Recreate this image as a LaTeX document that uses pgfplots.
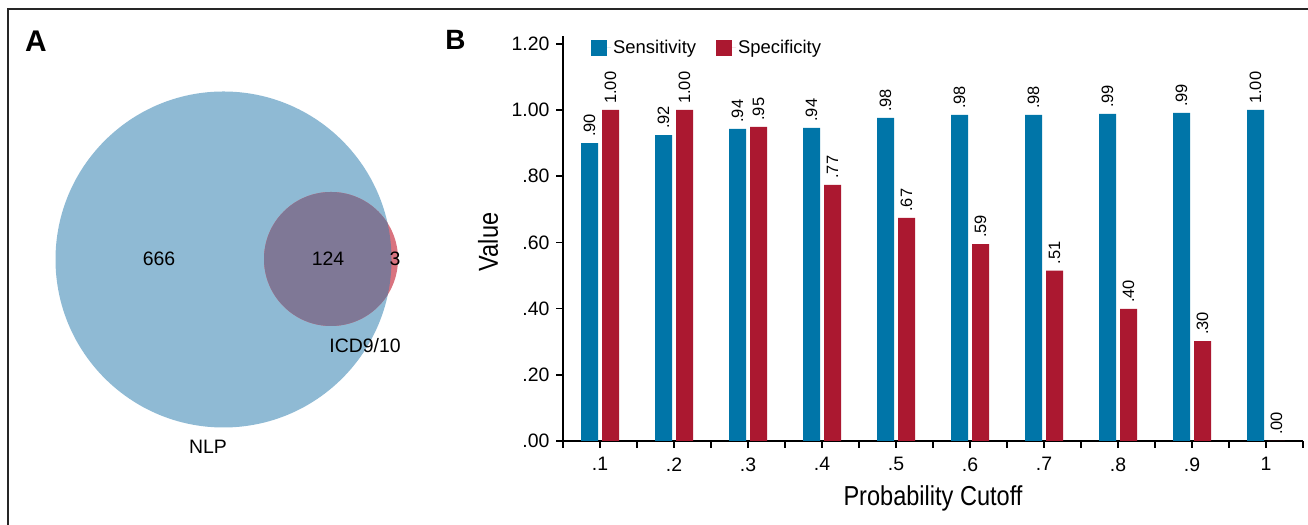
\documentclass[border=0pt]{standalone}
\usepackage{fontspec}
\setmainfont{Liberation Sans}
\newfontfamily\condfont[FakeStretch=0.86]{Liberation Sans}
\usepackage{pgfplots}
\pgfplotsset{compat=1.18}

\definecolor{sensblue}{HTML}{0075A8}
\definecolor{specred}{HTML}{AB1830}
\definecolor{vennblue}{HTML}{8FBAD4}
\definecolor{vennpink}{HTML}{D9737F}
\definecolor{vennmix}{HTML}{7F7896}

\begin{document}
\begin{tikzpicture}[x=1bp,y=1bp]
\useasboundingbox (0,0) rectangle (1308,525);
% outer frame (only top and left show)
\draw[line width=1.3bp, black!85] (8,0) -- (8,516) -- (1308,516);
\node[font=\fontsize{30}{34}\selectfont\bfseries] at (36,484) {A};
\node[font=\fontsize{28}{32}\selectfont\bfseries] at (455.5,485) {B};

% panel A: venn diagram
\begin{axis}[
    at={(0,0)}, anchor=south west, scale only axis,
    width=470bp, height=525bp,
    xmin=0, xmax=470, ymin=0, ymax=525,
    hide axis,
  ]
  \fill[vennblue] (axis cs:223.5,265.5) circle[radius=168];
  \fill[vennpink] (axis cs:331,266) circle[radius=67];
  \begin{scope}
    \clip (axis cs:223.5,265.5) circle[radius=168];
    \fill[vennmix] (axis cs:331,266) circle[radius=67];
  \end{scope}
  \node[font=\fontsize{19.5}{23}\selectfont] at (axis cs:159,266) {666};
  \node[font=\fontsize{19.5}{23}\selectfont] at (axis cs:328,266) {124};
  \node[font=\fontsize{19.5}{23}\selectfont] at (axis cs:395,266) {3};
  \node[font=\fontsize{19.5}{23}\selectfont] at (axis cs:365,179) {ICD9/10};
  \node[font=\fontsize{19.5}{23}\selectfont] at (axis cs:208,78) {NLP};
\end{axis}

% panel B: bar chart
\begin{axis}[
    at={(563bp,84bp)}, anchor=south west, scale only axis,
    width=740bp, height=405bp,
    xmin=0.5, xmax=10.5, ymin=0, ymax=1.2236,
    ybar=4bp, bar width=17bp,
    axis lines*=left,
    axis line style={line width=1.5bp, black},
    xtick={1,...,10},
    xticklabels={.1,.2,.3,.4,.5,.6,.7,.8,.9,1},
    minor xtick={0.5,1.5,...,10.5},
    ytick={0,0.2,0.4,0.6,0.8,1.0,1.2},
    yticklabels={.00,.20,.40,.60,.80,1.00,1.20},
    tick align=outside,
    major tick length=7bp, minor tick length=7bp,
    tick style={line width=1.5bp, black},
    ticklabel style={font=\fontsize{19.5}{23}\selectfont},
    xticklabel style={yshift=-6bp},
    yticklabel style={xshift=-3bp},
    xlabel={Probability Cutoff},
    ylabel={Value},
    label style={font=\condfont\fontsize{27.5}{31}\selectfont},
    xlabel style={at={(axis description cs:0.5,-0.1407)}, anchor=center},
    ylabel style={at={(axis description cs:-0.1014,0.4914)}, anchor=center},
    legend style={at={(axis description cs:0.0378,0.995)}, anchor=north west,
      draw=none, fill=none, inner sep=0pt,
      font=\fontsize{18.5}{21}\selectfont,
      /tikz/every even column/.append style={column sep=18bp}},
    legend columns=2,
    legend image code/.code={\fill[#1] (0bp,-8bp) rectangle (16bp,8bp);
      \path (0bp,0bp) -- (20bp,0bp);},
    point meta=explicit symbolic,
    nodes near coords,
    every node near coord/.append style={rotate=90, anchor=west, text=black,
      font=\fontsize{16.5}{19}\selectfont, inner sep=6bp},
    clip=false,
  ]
  \addplot[fill=sensblue, draw=none] coordinates {
    (1,0.900) [.90]
    (2,0.924) [.92]
    (3,0.943) [.94]
    (4,0.946) [.94]
    (5,0.976) [.98]
    (6,0.985) [.98]
    (7,0.985) [.98]
    (8,0.988) [.99]
    (9,0.991) [.99]
    (10,1.000) [1.00]
  };
  \addplot[fill=specred, draw=none] coordinates {
    (1,1.000) [1.00]
    (2,1.000) [1.00]
    (3,0.949) [.95]
    (4,0.774) [.77]
    (5,0.674) [.67]
    (6,0.595) [.59]
    (7,0.515) [.51]
    (8,0.399) [.40]
    (9,0.302) [.30]
    (10,0.000) [.00]
  };
  \legend{Sensitivity, Specificity}
\end{axis}
\end{tikzpicture}
\end{document}
